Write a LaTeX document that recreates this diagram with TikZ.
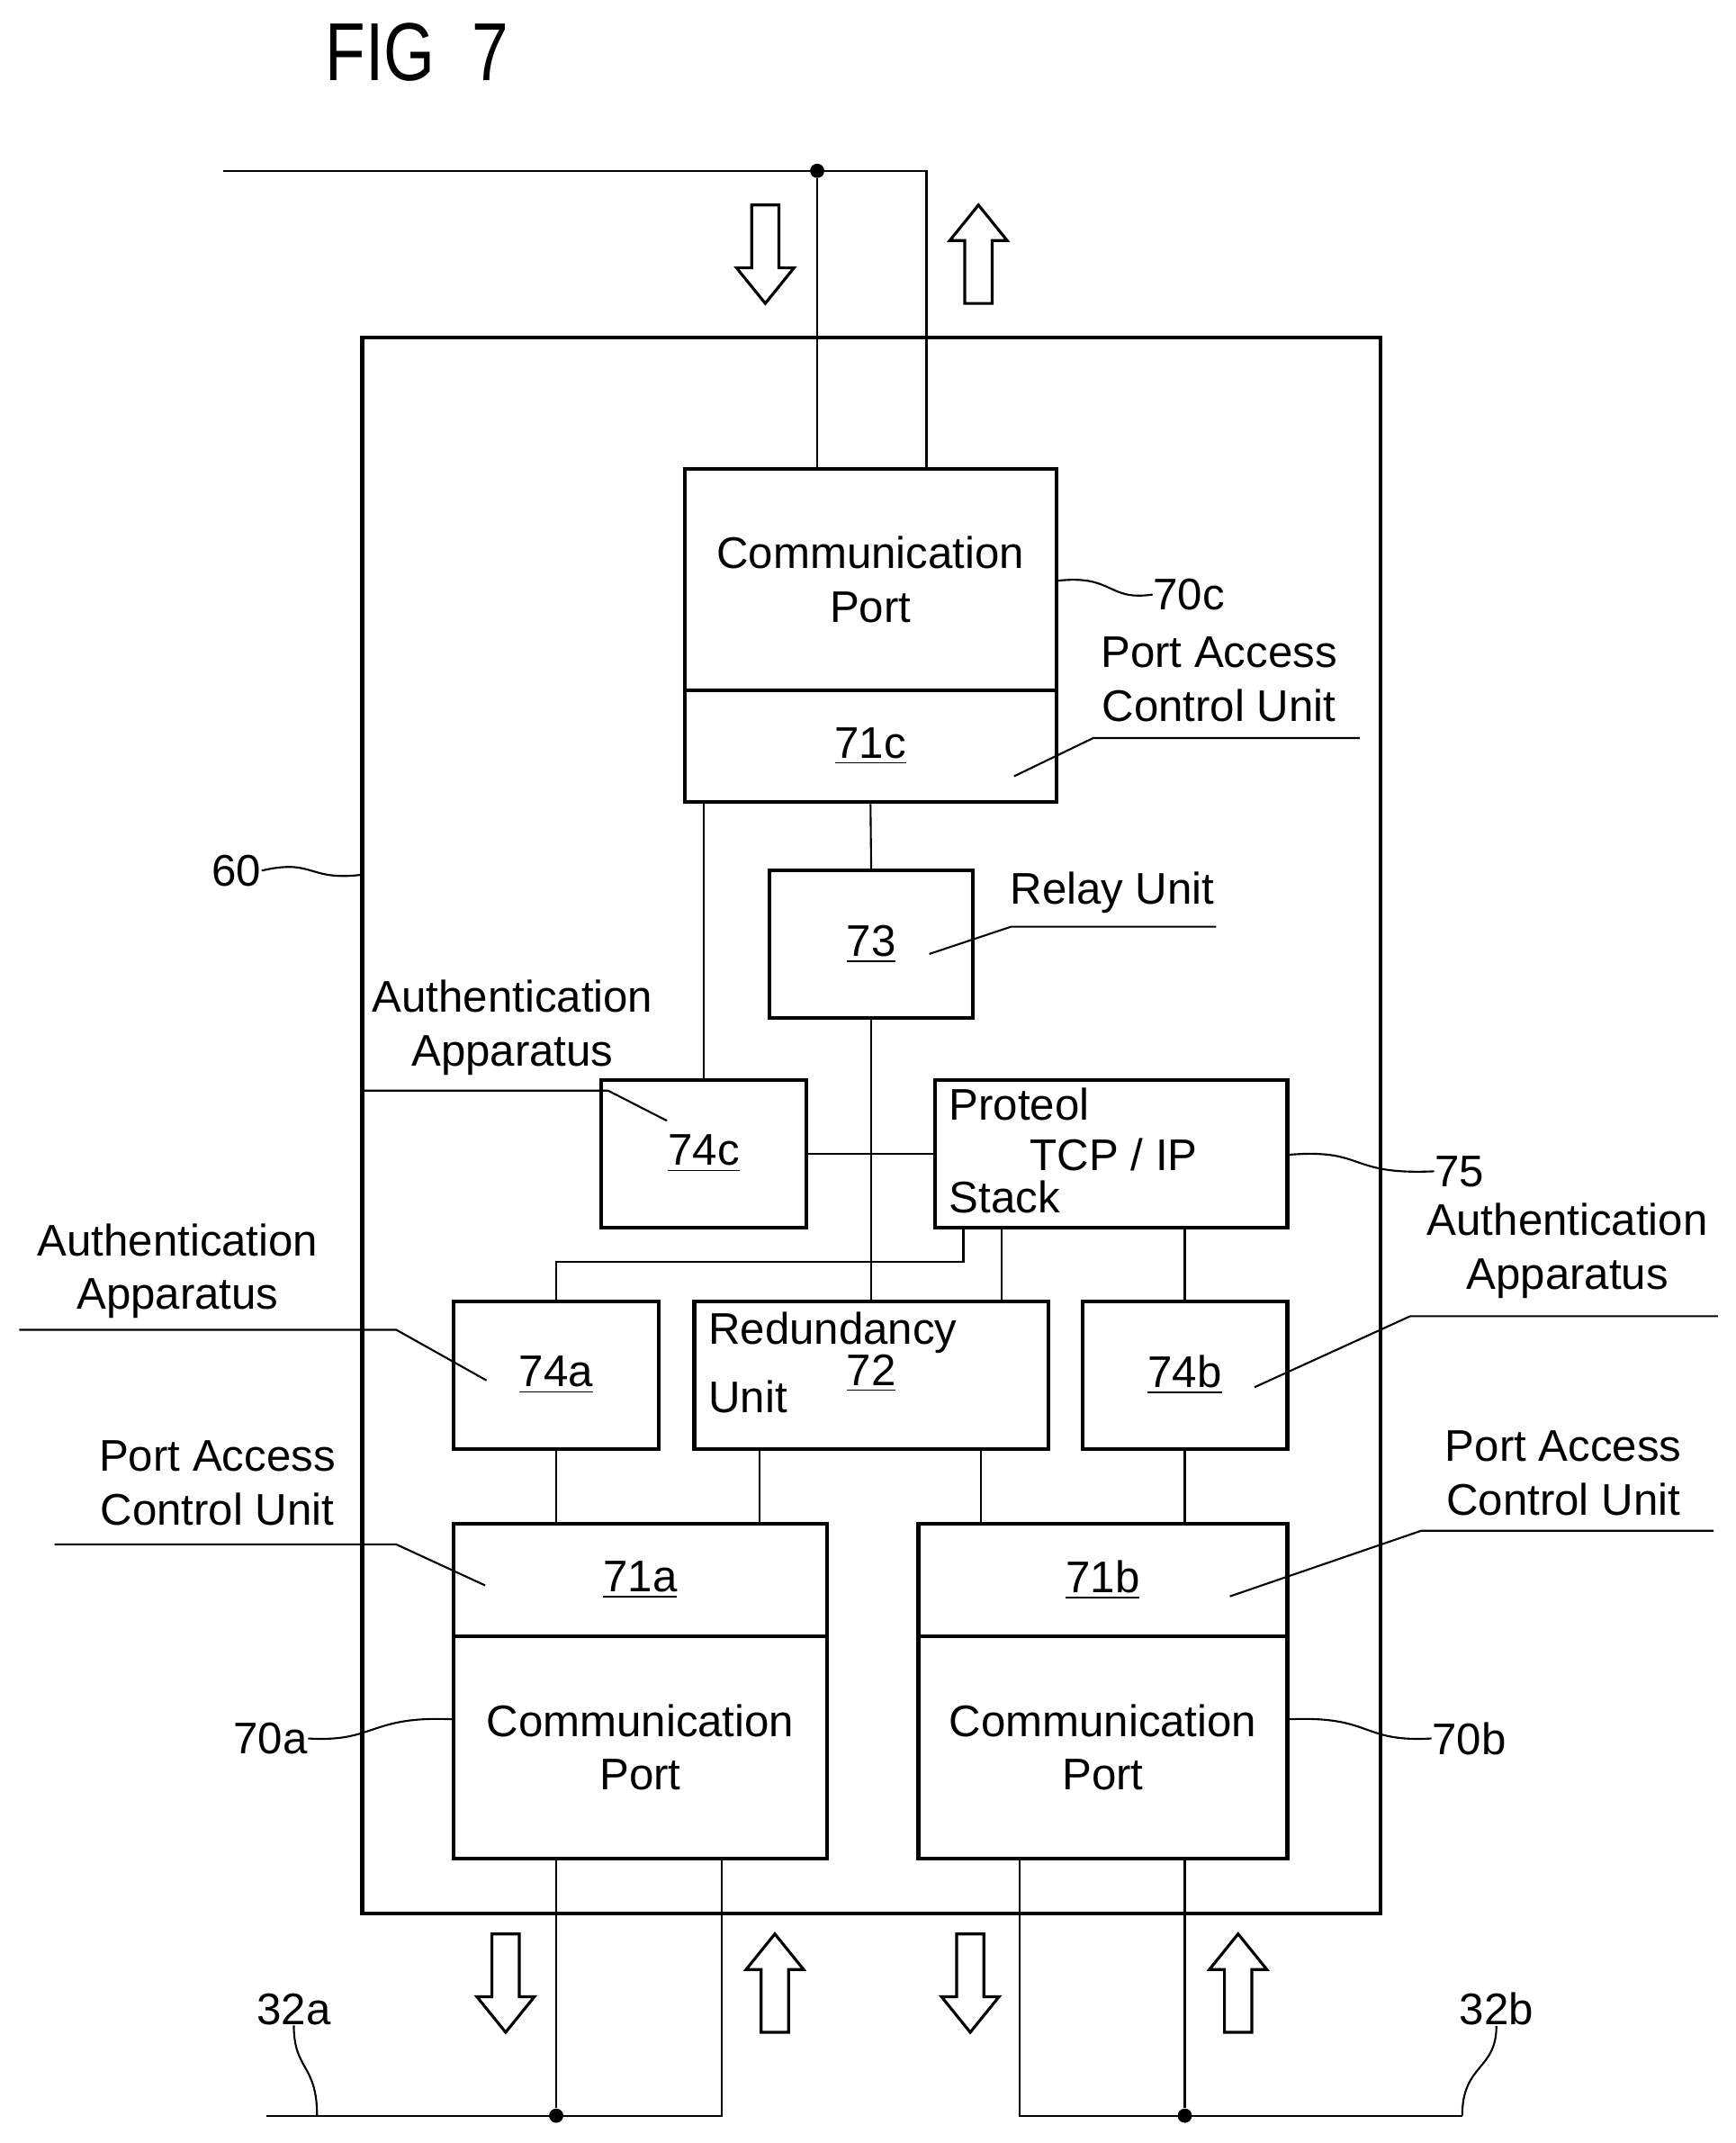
\documentclass[tikz,border=0pt]{standalone}
\usepackage{fontspec}
\setmainfont{Liberation Sans}
\usetikzlibrary{positioning}
\newcommand\dpx{0.01518cm}
\tikzset{
  blk/.style 2 args={draw, line width=1.2pt, inner sep=0pt,
    minimum width=#1*\dpx, minimum height=#2*\dpx},
  thin/.style={line width=0.6pt},
  lbl/.style={font=\fontsize{14}{17}\selectfont, align=center, inner sep=0pt},
  num/.style={font=\fontsize{14}{17}\selectfont, inner sep=0pt},
  dot/.style={circle, fill, inner sep=0pt, minimum size=4.5pt},
  pics/dnarrow/.style={code={\draw[line width=0.9pt]
    (-10,0) -- (10,0) -- (10,46) -- (21,46) -- (0,72) -- (-21,46) -- (-10,46) -- cycle;}},
  pics/uparrow/.style={code={\draw[line width=0.9pt]
    (-10,72) -- (10,72) -- (10,26) -- (21,26) -- (0,0) -- (-21,26) -- (-10,26) -- cycle;}}
}
\begin{document}
\begin{tikzpicture}[x=\dpx, y=-\dpx]
\useasboundingbox (0,0) rectangle (1270,1568);
\node[font=\fontsize{26}{30}\selectfont] (fig) at (305,38) {\scalebox{0.8}[1]{FIG\ \ 7}};

% device frame
\node[blk={745}{1153}] (dev) at (637.5,823.5) {};

% upper port
\node[blk={272}{162}, lbl] (p70c) at (637,424) {Communication\\Port};
\node[blk={272}{82}, num] (pa71c) at (637,546) {\underline{71c}};
\node[blk={149}{108}, num] (r73) at (637.5,691) {\underline{73}};
\node[blk={150}{108}, num] (a74c) at (515,844) {\underline{74c}};
\node[blk={258}{108}] (s75) at (813,844) {};
\node[lbl, anchor=west] (s75a) at (694,808) {Proteol};
\node[num] (s75b) at (815,845) {TCP / IP};
\node[lbl, anchor=west] (s75c) at (694,876) {Stack};

% middle row
\node[blk={150}{108}, num] (a74a) at (407,1006) {\underline{74a}};
\node[blk={259}{108}] (u72) at (637.5,1006) {};
\node[lbl, anchor=west] (u72a) at (518,975) {Redundancy};
\node[lbl, anchor=west] (u72b) at (518,1022) {Unit};
\node[num] (u72c) at (637.5,1005) {\underline{72}};
\node[blk={150}{108}, num] (a74b) at (867,1006) {\underline{74b}};

% lower ports
\node[blk={273}{82}, num] (pa71a) at (468.5,1156) {\underline{71a}};
\node[blk={273}{163}, lbl] (p70a) at (468.5,1278.5) {Communication\\Port};
\node[blk={270}{82}, num] (pa71b) at (807,1156) {\underline{71b}};
\node[blk={270}{163}, lbl] (p70b) at (807,1278.5) {Communication\\Port};

% internal connections
\draw[thin] (pa71c.south) -- (r73.north);
\draw[thin] (r73.south) -- (u72.north);
\draw[thin] (a74c.north |- pa71c.south) -- (a74c.north);
\draw[thin] (a74c.east) -- (s75.west);
\draw[thin] ([xshift=-108*\dpx]s75.south) -- ++(0,24) -| (a74a.north);
\draw[thin] ([xshift=-80*\dpx]s75.south) -- ([xshift=95.5*\dpx]u72.north);
\draw[thin] (a74b.north |- s75.south) -- (a74b.north);
\draw[thin] (a74a.south) -- (a74a.south |- pa71a.north);
\draw[thin] ([xshift=-81.5*\dpx]u72.south) -- ([xshift=-81.5*\dpx]u72.south |- pa71a.north);
\draw[thin] ([xshift=80.5*\dpx]u72.south) -- ([xshift=80.5*\dpx]u72.south |- pa71b.north);
\draw[thin] (a74b.south) -- (a74b.south |- pa71b.north);

% top line
\coordinate (tl) at (163,125);
\coordinate (tr) at (678,125);
\node[dot] (jt) at (598,125) {};
\draw[thin] (tl) -- (tr) -- (tr |- p70c.north);
\draw[thin] (jt) -- (jt |- p70c.north);
\pic at (560,150) {dnarrow};
\pic at (716,150) {uparrow};

% bottom lines
\coordinate (bl) at (195,1548);
\coordinate (blr) at (528,1548);
\node[dot] (jbl) at (407,1548) {};
\draw[thin] (bl) -- (blr) -- (blr |- p70a.south);
\draw[thin] (jbl) -- (jbl |- p70a.south);
\coordinate (brl) at (746,1548);
\coordinate (br) at (1070,1548);
\node[dot] (jbr) at (867,1548) {};
\draw[thin] (br) -- (brl) -- (brl |- p70b.south);
\draw[thin] (jbr) -- (jbr |- p70b.south);
\pic at (370,1415) {dnarrow};
\pic at (567,1415) {uparrow};
\pic at (710,1415) {dnarrow};
\pic at (906,1415) {uparrow};

% reference numerals
\node[num] (n60) at (173,637) {60};
\draw[thin] (n60.east) .. controls (230,628) and (225,645) .. (265,640);
\node[num] (n70c) at (870,435) {70c};
\draw[thin] (773,425) .. controls (815,420) and (810,440) .. (n70c.west);
\node[num] (n75) at (1068,857) {75};
\draw[thin] (942,845) .. controls (1000,840) and (985,860) .. (n75.west);
\node[num] (n70a) at (198,1272) {70a};
\draw[thin] (n70a.east) .. controls (275,1275) and (270,1255) .. (332,1258);
\node[num] (n70b) at (1075,1272) {70b};
\draw[thin] (942,1258) .. controls (1005,1255) and (995,1275) .. (n70b.west);
\node[num] (n32a) at (215,1470) {32a};
\draw[thin] (n32a.south) .. controls (215,1515) and (232,1510) .. (232,1548);
\node[num] (n32b) at (1095,1470) {32b};
\draw[thin] (n32b.south) .. controls (1095,1515) and (1070,1510) .. (1070,1548);

% descriptive labels
\node[lbl] (tpac) at (892,497) {Port Access\\Control Unit};
\draw[thin] (742,568) -- (800,540) -- (995,540);
\node[lbl] (trel) at (814,653) {Relay Unit};
\draw[thin] (680,698) -- (740,678) -- (890,678);
\node[lbl] (taac) at (375,752) {Authentication\\Apparatus};
\draw[thin] (265,798) -- (445,798) -- (488,820);
\node[lbl] (taaa) at (130,930) {Authentication\\Apparatus};
\draw[thin] (14,973) -- (290,973) -- (356,1010);
\node[lbl] (taab) at (1147,915) {Authentication\\Apparatus};
\draw[thin] (918,1015) -- (1032,963) -- (1257,963);
\node[lbl] (tpaa) at (159,1085) {Port Access\\Control Unit};
\draw[thin] (40,1130) -- (290,1130) -- (355,1160);
\node[lbl] (tpab) at (1144,1078) {Port Access\\Control Unit};
\draw[thin] (1254,1120) -- (1040,1120) -- (900,1168);
\end{tikzpicture}
\end{document}
